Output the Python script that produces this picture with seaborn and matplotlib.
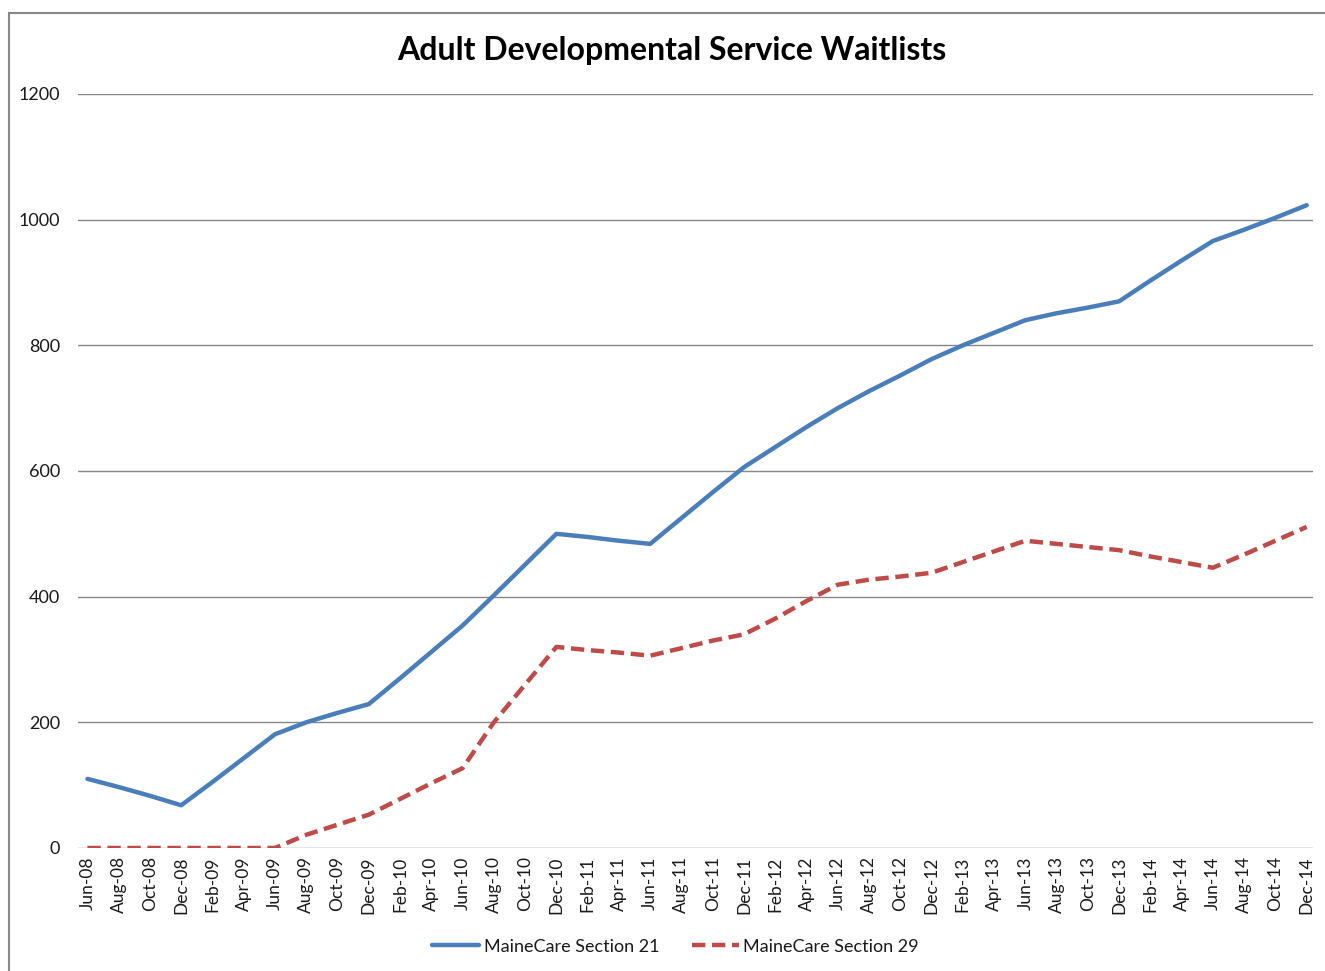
import pandas as pd
import matplotlib.pyplot as plt
import seaborn as sns
from matplotlib.patches import Rectangle

# Category labels (every two months)
months = ["Jun-08", "Aug-08", "Oct-08", "Dec-08", "Feb-09", "Apr-09", "Jun-09", "Aug-09",
          "Oct-09", "Dec-09", "Feb-10", "Apr-10", "Jun-10", "Aug-10", "Oct-10", "Dec-10",
          "Feb-11", "Apr-11", "Jun-11", "Aug-11", "Oct-11", "Dec-11", "Feb-12", "Apr-12",
          "Jun-12", "Aug-12", "Oct-12", "Dec-12", "Feb-13", "Apr-13", "Jun-13", "Aug-13",
          "Oct-13", "Dec-13", "Feb-14", "Apr-14", "Jun-14", "Aug-14", "Oct-14", "Dec-14"]

# Waitlist counts
section_21 = [110, 97, 83, 68, 105, 143, 181, 200, 215, 229, 270, 312, 354, 402, 451, 500,
              495, 489, 484, 525, 566, 606, 638, 670, 700, 727, 752, 778, 800, 820, 840, 851,
              860, 870, 903, 935, 966, 984, 1003, 1023]
section_29 = [0, 0, 0, 0, 0, 0, 0, 21, 37, 53, 78, 103, 127, 200, 260, 320,
              315, 311, 306, 318, 330, 340, 365, 393, 419, 427, 432, 438, 455, 472, 489, 484,
              479, 474, 464, 455, 446, 467, 489, 511]

df = pd.DataFrame({"Month": months, "MaineCare Section 21": section_21,
                   "MaineCare Section 29": section_29})
df["pos"] = range(len(months))
long_df = df.melt(id_vars=["Month", "pos"], var_name="Series", value_name="Count")

sns.set_style("white")
plt.rcParams["font.family"] = ["Lato", "DejaVu Sans"]
plt.rcParams["text.color"] = "#1a1a1a"
plt.rcParams["xtick.color"] = "#1a1a1a"
plt.rcParams["ytick.color"] = "#1a1a1a"

fig = plt.figure(figsize=(13.25, 9.71), dpi=100)
ax = fig.add_axes([0.0589, 0.1267, 0.932, 0.7765])

sns.lineplot(data=long_df, x="pos", y="Count", hue="Series", style="Series",
             palette={"MaineCare Section 21": "#4A7EBB", "MaineCare Section 29": "#BE4B48"},
             dashes={"MaineCare Section 21": "", "MaineCare Section 29": (3, 1.5)},
             linewidth=3.2, ax=ax)

ax.set_ylim(0, 1200)
ax.set_yticks(range(0, 1201, 200))
ax.set_xlim(-0.3, len(months) - 1 + 0.2)
ax.set_xticks(range(len(months)))
ax.set_xticklabels(months, rotation=90, fontsize=12.5)
ax.tick_params(axis="y", labelsize=13, length=0, pad=13)
ax.tick_params(axis="x", length=0, pad=6)
ax.grid(axis="y", color="#868686", linewidth=1)
ax.set_axisbelow(True)
for s in ax.spines.values():
    s.set_visible(False)
ax.set_xlabel("")
ax.set_ylabel("")

fig.text(672 / 1325, 1 - 50 / 971, "Adult Developmental Service Waitlists", fontsize=23,
         fontweight="bold", ha="center", va="center", color="black")

handles, labels = ax.get_legend_handles_labels()
ax.legend(handles, labels, loc="lower center", bbox_to_anchor=(0.484, -0.163), ncol=2,
          frameon=False, fontsize=13, handlelength=2.6, columnspacing=1.8,
          handletextpad=0.25)

fig.patches.append(Rectangle((9 / 1325, -0.01), 1.0, 1 - 13 / 971 + 0.01,
                             transform=fig.transFigure, fill=False,
                             edgecolor="#888888", linewidth=1.5))

fig.savefig("out.png", dpi=100)
